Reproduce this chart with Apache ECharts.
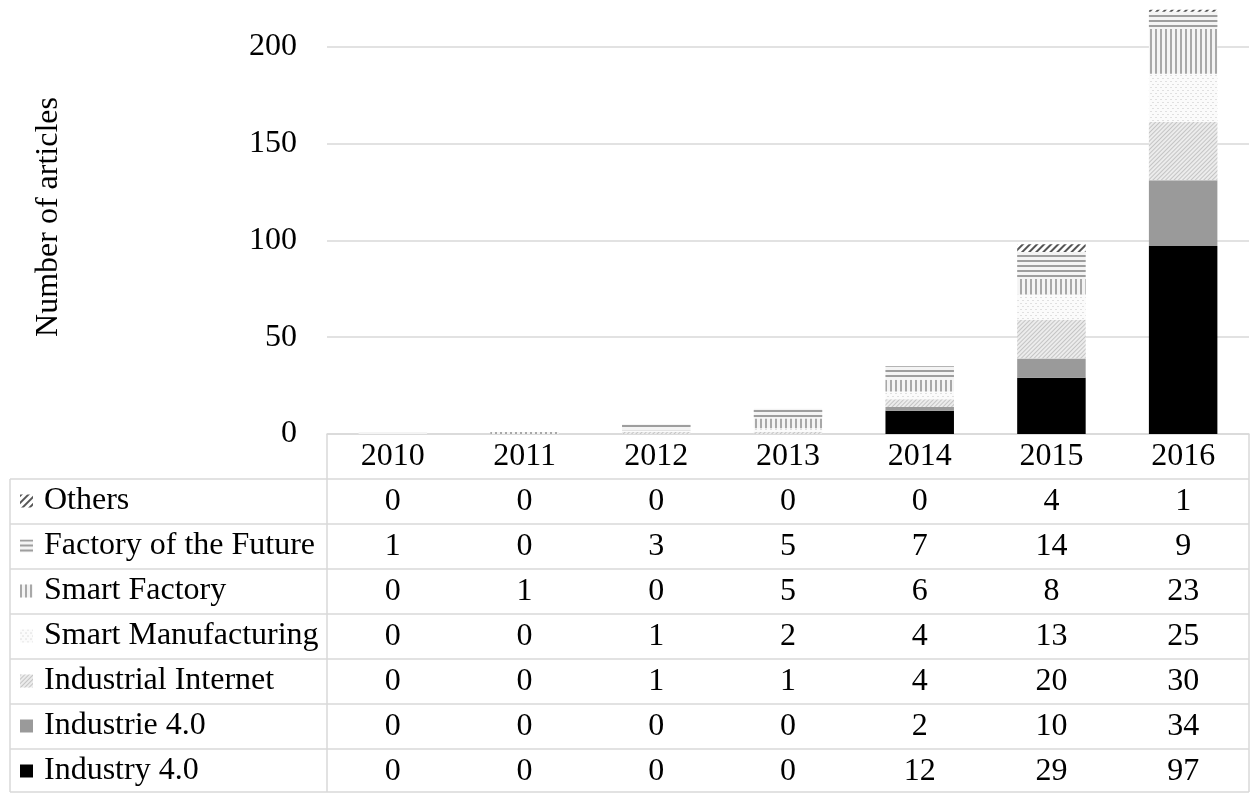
<!DOCTYPE html>
<html>
<head>
<meta charset="utf-8">
<script src="https://cdn.jsdelivr.net/npm/echarts@6/dist/echarts.min.js"></script>
<style>
html,body{margin:0;padding:0;background:#fff;}
#chart{width:1253px;height:794px;}
</style>
</head>
<body>
<div id="chart"></div>
<script>
var years = ['2010','2011','2012','2013','2014','2015','2016'];
var yTicks = [0, 50, 100, 150, 200];
// one array per series, bottom of the stack first
var industry40 = [0, 0, 0, 0, 12, 29, 97];
var industrie40 = [0, 0, 0, 0, 2, 10, 34];
var industrialInternet = [0, 0, 1, 1, 4, 20, 30];
var smartManufacturing = [0, 0, 1, 2, 4, 13, 25];
var smartFactory = [0, 1, 0, 5, 6, 8, 23];
var factoryFuture = [1, 0, 3, 5, 7, 14, 9];
var others = [0, 0, 0, 0, 0, 4, 1];

var font = 'Liberation Serif';
var fs = 32;
var lineColor = '#d9d9d9';
var rowH = 45;

var chart = echarts.init(document.getElementById('chart'));

// series definitions (stack order bottom -> top)
var seriesDefs = [
    {name: 'Industry 4.0', data: industry40, color: '#000000', decal: null},
    {name: 'Industrie 4.0', data: industrie40, color: '#9a9a9a', decal: null},
    {name: 'Industrial Internet', data: industrialInternet, color: '#ececec',
        decal: {symbol: 'rect', symbolSize: 1, color: '#c4c4c4', dashArrayX: [1, 0], dashArrayY: [1, 2], rotation: -Math.PI / 4}},
    {name: 'Smart Manufacturing', data: smartManufacturing, color: '#fbfbfb',
        decal: {symbol: 'rect', symbolSize: 1, color: '#e0e0e0', dashArrayX: [[2, 3], [0, 2, 2, 1]], dashArrayY: [1, 2], rotation: 0}},
    {name: 'Smart Factory', data: smartFactory, color: '#f4f4f4',
        decal: {symbol: 'rect', symbolSize: 1, color: '#a8a8a8', dashArrayX: [2, 3], dashArrayY: [1, 0], rotation: 0}},
    {name: 'Factory of the Future', data: factoryFuture, color: '#f4f4f4',
        decal: {symbol: 'rect', symbolSize: 1, color: '#9e9e9e', dashArrayX: [1, 0], dashArrayY: [2, 3], rotation: 0}},
    {name: 'Others', data: others, color: '#ffffff',
        decal: {symbol: 'rect', symbolSize: 1, color: '#555555', dashArrayX: [1, 0], dashArrayY: [2, 3], rotation: -Math.PI / 4}}
];

var series = seriesDefs.map(function (d) {
    var s = {
        name: d.name,
        type: 'bar',
        stack: 'total',
        barWidth: '52%',
        data: d.data,
        xAxisIndex: 0,
        itemStyle: {color: d.color}
    };
    if (d.decal) {
        s.itemStyle.decal = d.decal;
    }
    return s;
});

// table rows from top to bottom
var tableRows = seriesDefs.slice().reverse();

var xAxes = [{
    type: 'category',
    data: years,
    position: 'bottom',
    axisLine: {show: true, lineStyle: {color: lineColor, width: 1.5}},
    axisTick: {show: false},
    axisLabel: {color: '#000', fontFamily: font, fontSize: fs, margin: 7}
}];
tableRows.forEach(function (row, k) {
    xAxes.push({
        type: 'category',
        data: years,
        position: 'bottom',
        offset: rowH * (k + 1),
        axisLine: {show: false},
        axisTick: {show: false},
        axisLabel: {
            color: '#000', fontFamily: font, fontSize: fs, margin: 7,
            formatter: function (v, idx) { return String(row.data[idx]); }
        }
    });
});

// table border lines
var gx0 = 10, gx1 = 327, gx2 = 1249, gy0 = 434, gyBottom = 434 + rowH * 8 - 2;
var lines = [];
for (var k = 1; k <= 7; k++) {
    lines.push({type: 'line', shape: {x1: gx0, y1: gy0 + rowH * k, x2: gx2, y2: gy0 + rowH * k}, style: {stroke: lineColor, lineWidth: 1.5}, silent: true});
}
lines.push({type: 'line', shape: {x1: gx0, y1: gyBottom, x2: gx2, y2: gyBottom}, style: {stroke: lineColor, lineWidth: 1.5}, silent: true});
lines.push({type: 'line', shape: {x1: gx0, y1: gy0 + rowH, x2: gx0, y2: gyBottom}, style: {stroke: lineColor, lineWidth: 1.5}, silent: true});
lines.push({type: 'line', shape: {x1: gx1, y1: gy0, x2: gx1, y2: gyBottom}, style: {stroke: lineColor, lineWidth: 1.5}, silent: true});
lines.push({type: 'line', shape: {x1: gx2, y1: gy0, x2: gx2, y2: gyBottom}, style: {stroke: lineColor, lineWidth: 1.5}, silent: true});

chart.setOption({
    backgroundColor: '#ffffff',
    animation: false,
    grid: {left: gx1, right: 1253 - gx2, top: 0, bottom: 794 - gy0},
    legend: {
        orient: 'vertical',
        left: 20,
        top: 485,
        padding: 0,
        icon: 'rect',
        itemWidth: 13,
        itemHeight: 13,
        itemGap: 13,
        selectedMode: false,
        data: tableRows.map(function (r) { return r.name; }),
        textStyle: {color: '#000', fontFamily: font, fontSize: fs, lineHeight: 32, padding: [0, 0, 0, 6]}
    },
    xAxis: xAxes,
    yAxis: {
        type: 'value',
        min: yTicks[0],
        max: 224,
        interval: yTicks[1] - yTicks[0],
        name: 'Number of articles',
        nameLocation: 'middle',
        nameGap: 262,
        nameTextStyle: {color: '#000', fontFamily: font, fontSize: fs},
        axisLine: {show: false},
        axisTick: {show: false},
        axisLabel: {color: '#000', fontFamily: font, fontSize: fs, margin: 30, showMaxLabel: false},
        splitLine: {show: true, showMaxLine: false, lineStyle: {color: lineColor, width: 1.5}}
    },
    graphic: lines,
    series: series
});

window.addEventListener('resize', function () {
    chart.resize();
});
</script>
</body>
</html>
